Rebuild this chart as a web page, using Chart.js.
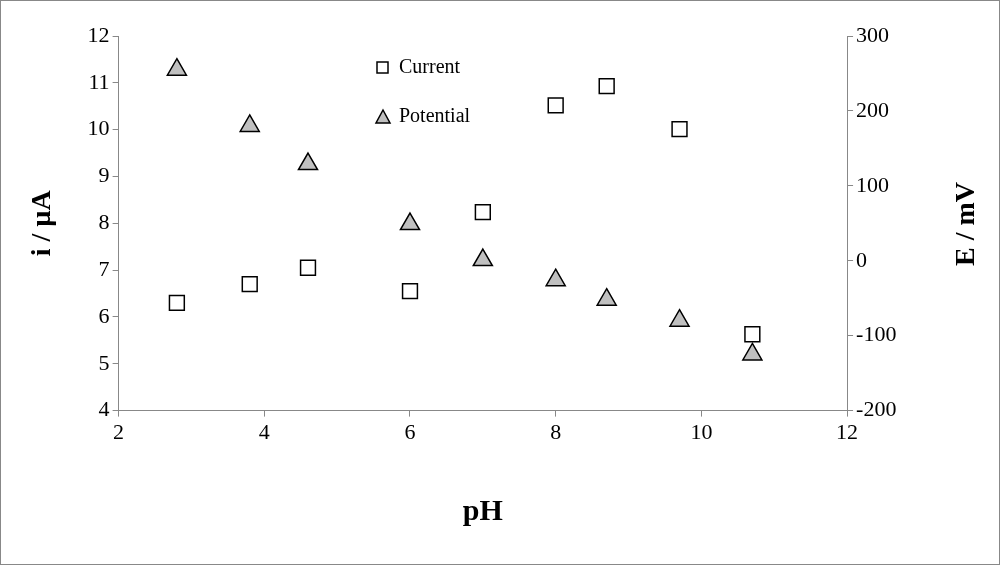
<!DOCTYPE html>
<html>
<head>
<script src="https://cdn.jsdelivr.net/npm/chart.js@4"></script>
<style>
  body { margin: 0; background: #fff; }
  #wrap { position: relative; width: 998px; height: 563px; border: 1px solid #888; }
</style>
</head>
<body>
<div id="wrap"><canvas id="chart" width="998" height="563"></canvas></div>
<script>
// pH values shared by both series
const phValues = [2.8, 3.8, 4.6, 6.0, 7.0, 8.0, 8.7, 9.7, 10.7];
const currentValues = [6.3, 6.7, 7.05, 6.55, 8.24, 10.52, 10.93, 10.01, 5.63];
const potentialValues = [255, 180, 129, 49, 1, -26, -52, -80, -125];
const seriesNames = ['Current', 'Potential'];

const FONT = "'Liberation Serif', 'DejaVu Serif', serif";

function toPoints(ys) {
    return phValues.map((x, i) => ({ x: x, y: ys[i] }));
}

// Legend and right axis title drawn by hand so they sit where the original has them
const extras = {
    id: 'extras',
    afterDraw(chart) {
        const ctx = chart.ctx;
        ctx.save();
        ctx.strokeStyle = '#000';
        ctx.lineWidth = 1.5;
        ctx.fillStyle = '#fff';
        ctx.fillRect(376, 61, 11, 11);
        ctx.strokeRect(376, 61, 11, 11);
        ctx.fillStyle = '#c0c0c0';
        ctx.beginPath();
        ctx.moveTo(382, 109);
        ctx.lineTo(389, 122);
        ctx.lineTo(375, 122);
        ctx.closePath();
        ctx.fill();
        ctx.stroke();
        ctx.fillStyle = '#000';
        ctx.font = '20px ' + FONT;
        ctx.textBaseline = 'middle';
        ctx.fillText(seriesNames[0], 398, 67);
        ctx.fillText(seriesNames[1], 398, 116);
        ctx.font = 'bold 28px ' + FONT;
        ctx.translate(966, 223);
        ctx.rotate(-Math.PI / 2);
        ctx.textAlign = 'center';
        ctx.fillText('E / mV', 0, 0);
        ctx.restore();
    }
};

const gridOpts = { display: true, drawOnChartArea: false, tickLength: 6, color: '#888' };

new Chart(document.getElementById('chart').getContext('2d'), {
    type: 'scatter',
    data: {
        datasets: [{
            label: seriesNames[0],
            data: toPoints(currentValues),
            yAxisID: 'y',
            pointStyle: 'rect',
            pointRadius: 10.5,
            backgroundColor: '#fff',
            borderColor: '#000',
            borderWidth: 1.5
        }, {
            label: seriesNames[1],
            data: toPoints(potentialValues),
            yAxisID: 'y1',
            pointStyle: 'triangle',
            pointRadius: 11,
            backgroundColor: '#c0c0c0',
            borderColor: '#000',
            borderWidth: 1.5
        }]
    },
    plugins: [extras],
    options: {
        responsive: false,
        animation: false,
        layout: { padding: { left: 0, right: 20, top: 35, bottom: 30 } },
        plugins: { legend: { display: false }, tooltip: { enabled: false } },
        scales: {
            x: {
                type: 'linear', min: 2, max: 12,
                grid: gridOpts,
                border: { color: '#888' },
                ticks: { stepSize: 2, color: '#000', font: { family: FONT, size: 22 } },
                title: { display: true, text: 'pH', color: '#000', padding: { top: 45, bottom: 4 },
                         font: { family: FONT, size: 30, weight: 'bold' } }
            },
            y: {
                position: 'left', min: 4, max: 12,
                grid: gridOpts,
                border: { color: '#888' },
                ticks: { stepSize: 1, color: '#000', font: { family: FONT, size: 22 } },
                title: { display: true, text: 'i / µA', color: '#000', padding: 25,
                         font: { family: FONT, size: 28, weight: 'bold' } }
            },
            y1: {
                position: 'right', min: -200, max: 300,
                grid: gridOpts,
                border: { color: '#888' },
                ticks: { stepSize: 100, color: '#000', font: { family: FONT, size: 22 } },
                title: { display: true, text: 'E / mV', color: 'rgba(0,0,0,0)', padding: 23,
                         font: { family: FONT, size: 28, weight: 'bold' } }
            }
        }
    }
});
</script>
</body>
</html>
